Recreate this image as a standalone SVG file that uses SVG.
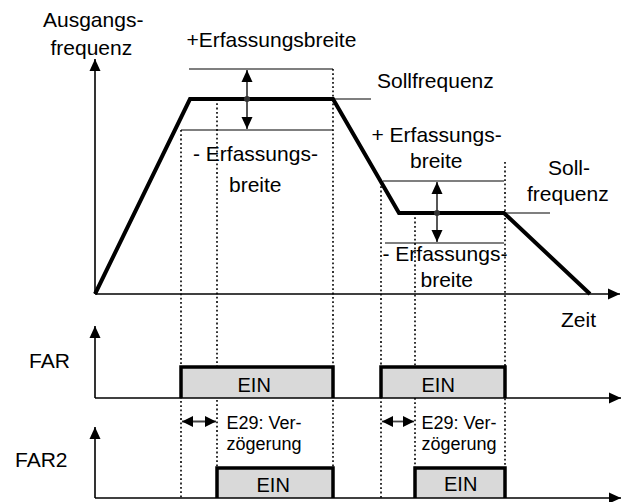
<svg xmlns="http://www.w3.org/2000/svg" width="629" height="502" viewBox="0 0 629 502">
<style>
  text { font-family: "Liberation Sans", Arial, sans-serif; font-size: 21px; fill: #000; }
  .sm { font-size: 18px; }
  .ein { font-size: 20px; }
  .axis { stroke: #000; stroke-width: 1.6; fill: none; }
  .thin { stroke: #000; stroke-width: 1.2; fill: none; }
  .thick { stroke: #000; stroke-width: 4; fill: none; stroke-linejoin: miter; }
  .dot { stroke: #000; stroke-width: 1.6; stroke-dasharray: 1.8 2.5; fill: none; }
  .box { fill: #d9d9d9; stroke: none; }
  .boxedge { stroke: #000; stroke-width: 3.5; fill: none; }
  .dim { stroke: #444; stroke-width: 1.8; fill: none; }
</style>
<defs>
  <marker id="ah" viewBox="0 0 12 12" refX="12" refY="6" markerWidth="12" markerHeight="12" markerUnits="userSpaceOnUse" orient="auto-start-reverse">
    <path d="M0,0.5 L12,6 L0,11.5 z" fill="#000"/>
  </marker>
  <marker id="ahs" viewBox="0 0 11 11" refX="11" refY="5.5" markerWidth="11" markerHeight="11" markerUnits="userSpaceOnUse" orient="auto-start-reverse">
    <path d="M0,0 L11,5.5 L0,11 z" fill="#000"/>
  </marker>
</defs>

<!-- dotted guide lines -->
<g id="guides">
  <line class="dot" x1="181" y1="130" x2="181" y2="498"/>
  <line class="dot" x1="217" y1="99" x2="217" y2="467"/>
  <line class="dot" x1="333" y1="69" x2="333" y2="467"/>
  <line class="dot" x1="381" y1="182" x2="381" y2="498"/>
  <line class="dot" x1="415" y1="213" x2="415" y2="467"/>
  <line class="dot" x1="505" y1="162" x2="505" y2="467"/>
</g>

<!-- frequency graph -->
<g id="freq-graph">
  <line class="axis" x1="95" y1="294" x2="95" y2="59" marker-end="url(#ah)"/>
  <line class="axis" x1="95" y1="294" x2="620" y2="294" marker-end="url(#ah)"/>
  <polyline class="thick" points="95,294 190,99 333,99 399,213 504,213 590,294"/>
  <!-- detection band 1 -->
  <line class="thin" x1="189" y1="69" x2="333" y2="69"/>
  <line class="thin" x1="181" y1="130" x2="333" y2="130"/>
  <line class="thin" x1="333" y1="99" x2="371" y2="99"/>
  <line class="dim" x1="247" y1="70" x2="247" y2="129" marker-start="url(#ah)" marker-end="url(#ah)"/>
  <circle cx="247" cy="99" r="3" fill="#333"/>
  <!-- detection band 2 -->
  <line class="thin" x1="383" y1="181" x2="504" y2="181"/>
  <line class="thin" x1="385" y1="243" x2="504" y2="243"/>
  <line class="thin" x1="506" y1="213" x2="550" y2="213"/>
  <line class="dim" x1="437" y1="182" x2="437" y2="242" marker-start="url(#ah)" marker-end="url(#ah)"/>
  <circle cx="437" cy="213" r="3" fill="#333"/>
</g>

<g id="freq-labels">
  <text x="43" y="27">Ausgangs-</text>
  <text x="50.5" y="55">frequenz</text>
  <text x="186.5" y="47">+Erfassungsbreite</text>
  <text x="377" y="88">Sollfrequenz</text>
  <text x="193" y="161">- Erfassungs-</text>
  <text x="229" y="192">breite</text>
  <text x="371.5" y="142">+ Erfassungs-</text>
  <text x="410" y="168">breite</text>
  <text x="548" y="175">Soll-</text>
  <text x="527" y="201">frequenz</text>
  <text x="382.5" y="261">- Erfassungs-</text>
  <text x="420.5" y="287">breite</text>
  <text x="561" y="327">Zeit</text>
</g>

<!-- FAR signal -->
<g id="far">
  <rect class="box" x="181" y="367" width="152" height="31"/>
  <rect class="box" x="381" y="367" width="124" height="31"/>
  <line class="axis" x1="95" y1="398" x2="95" y2="326" marker-end="url(#ah)"/>
  <line class="axis" x1="95" y1="398" x2="621" y2="398" marker-end="url(#ah)"/>
  <polyline class="boxedge" points="181,398 181,367 333,367 333,398"/>
  <polyline class="boxedge" points="381,398 381,367 505,367 505,398"/>
  <text x="29" y="368">FAR</text>
  <text class="ein" x="237.5" y="392">EIN</text>
  <text class="ein" x="421.5" y="392">EIN</text>
</g>

<!-- delay annotations -->
<g id="delay">
  <line class="dim" x1="182" y1="421.5" x2="216" y2="421.5" marker-start="url(#ahs)" marker-end="url(#ahs)"/>
  <line class="dim" x1="382" y1="421.5" x2="414" y2="421.5" marker-start="url(#ahs)" marker-end="url(#ahs)"/>
  <text class="sm" x="226.5" y="429">E29: Ver-</text>
  <text class="sm" x="226.5" y="450">zögerung</text>
  <text class="sm" x="421.5" y="429">E29: Ver-</text>
  <text class="sm" x="421.5" y="450">zögerung</text>
</g>

<!-- FAR2 signal -->
<g id="far2">
  <rect class="box" x="217" y="468" width="116" height="30"/>
  <rect class="box" x="415" y="468" width="90" height="30"/>
  <line class="axis" x1="95" y1="498" x2="95" y2="427" marker-end="url(#ah)"/>
  <line class="axis" x1="95" y1="498" x2="621" y2="498" marker-end="url(#ah)"/>
  <polyline class="boxedge" points="217,498 217,468 333,468 333,498"/>
  <polyline class="boxedge" points="415,498 415,468 505,468 505,498"/>
  <text x="15" y="467">FAR2</text>
  <text class="ein" x="256.5" y="491.5">EIN</text>
  <text class="ein" x="444" y="491">EIN</text>
</g>
</svg>
